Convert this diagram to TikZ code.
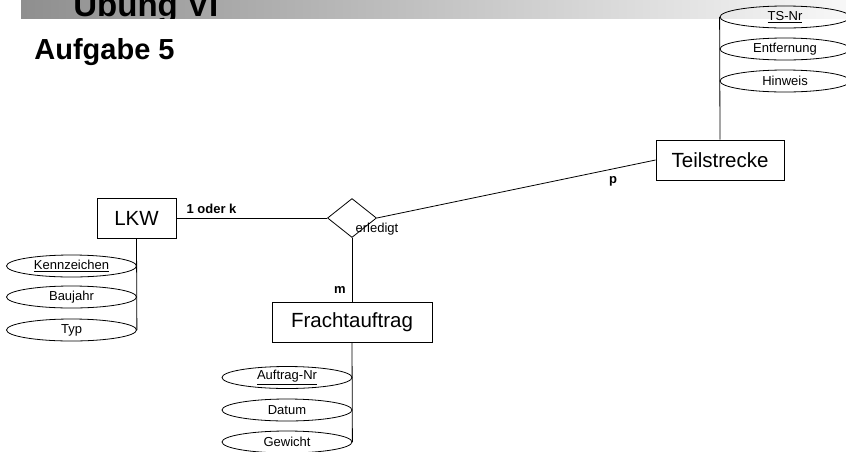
\documentclass[tikz,border=0pt]{standalone}
\usepackage{fontspec}
\setmainfont{Liberation Sans}
\usetikzlibrary{shapes.geometric}
\begin{document}
\begin{tikzpicture}[x=1pt,y=-1pt,
  line width=0.8pt,
  entity/.style={draw,rectangle,inner sep=0pt,minimum height=40pt,font=\fontsize{20.5}{24}\selectfont},
  attr/.style={draw,ellipse,inner sep=0pt,minimum width=130pt,minimum height=22pt,font=\fontsize{13}{15}\selectfont},
  rel/.style={draw,diamond,inner sep=0pt,minimum width=49pt,minimum height=39pt},
  card/.style={inner sep=0pt,font=\bfseries\fontsize{13}{15}\selectfont},
  conn/.style={draw,line width=0.8pt}]
\useasboundingbox (0,0) rectangle (846,451);

% title band
\shade[left color=black!44,right color=black!3] (21,0) rectangle (846,18);
\begin{scope}
  \clip (0,0) rectangle (846,18);
  \node[anchor=base west,inner sep=0pt,font=\bfseries\fontsize{33}{38}\selectfont] (title) at (73,16) {Übung VI};
\end{scope}
\node[anchor=base west,inner sep=0pt,font=\bfseries\fontsize{29}{34}\selectfont] (task) at (34,59) {Aufgabe 5};

% entities and relationship
\node[entity,minimum width=79pt] (lkw) at (136.5,218) {LKW};
\node[entity,minimum width=128pt] (ts) at (720,160) {Teilstrecke};
\node[entity,minimum width=160pt] (fa) at (352,322) {Frachtauftrag};
\node[rel] (erl) at (352,218) {};
\node[inner sep=0pt,font=\fontsize{13}{15}\selectfont] (erllbl) at (377,229) {erledigt};

% attributes of LKW
\node[attr] (kz) at (71.5,266) {\underline{Kennzeichen}};
\node[attr] (bj) at (71.5,297) {Baujahr};
\node[attr] (typ) at (71.5,330) {Typ};
\draw[conn] (lkw.south) -- (typ.east);

% attributes of Frachtauftrag
\node[attr] (anr) at (287,377.5) {\underline{Auftrag-Nr}};
\node[attr] (dat) at (287,410) {Datum};
\node[attr] (gew) at (287,442) {Gewicht};
\draw[conn] (fa.south) -- (gew.east);

% attributes of Teilstrecke
\node[attr] (tsnr) at (785,17) {\underline{TS-Nr}};
\node[attr] (ent) at (785,49) {Entfernung};
\node[attr] (hin) at (785,81) {Hinweis};
\draw[conn] (ts.north) -- (tsnr.west);

% relationship connectors
\draw[conn] (lkw.east) -- (erl.west);
\draw[conn] (erl.east) -- (ts.west);
\draw[conn] (erl.south) -- (fa.north);

% cardinalities
\node[card] (c1) at (211.5,209) {1 oder k};
\node[card] (cp) at (613,181) {p};
\node[card] (cm) at (340,290) {m};
\end{tikzpicture}
\end{document}
